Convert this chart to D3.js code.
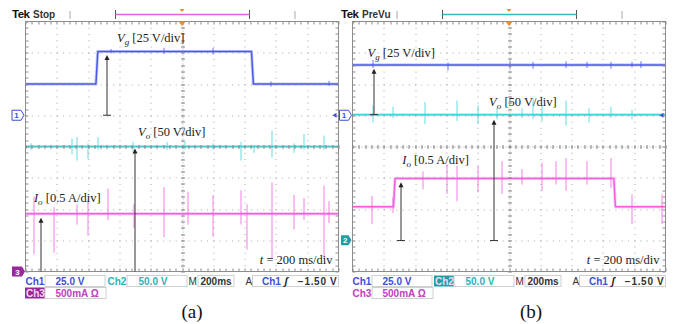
<!DOCTYPE html>
<html>
<head>
<meta charset="utf-8">
<script src="https://cdn.jsdelivr.net/npm/d3@7"></script>
<style>
  body { margin: 0; background: #fff; }
  svg { display: block; }
  .note { font-family: 'Liberation Serif', 'Times New Roman', serif; font-size: 12.5px; fill: #222; }
  .status { font-family: 'Liberation Sans', Arial, sans-serif; font-size: 10px; font-weight: bold; }
  .tag { font-family: 'Liberation Serif', 'Times New Roman', serif; font-size: 19px; fill: #111; }
</style>
</head>
<body>
<svg id="chart" width="679" height="324"></svg>
<script>
// time in ms (200 ms/div), levels in screen divisions from centre (+4 top, -4 bottom)
// steps: [ms, level]   spikes: [ms, up, down]
const vgStepA = [[0, 2.0], [450, 2.0], [462, 3.04], [1444, 3.04], [1456, 2.0], [2000, 2.0]];
const voStepA = [[0, 0.0], [2000, 0.0]];
const ioStepA = [[0, -2.15], [2000, -2.15]];
const vgSpikesA = [[540, 0.08, 0.06], [879, 0.12, 0.08], [1198, 0.12, 0.1], [1563, 0.08, 0.08], [1933, 0.1, 0.06]];
const voSpikesA = [[29, 0.1, 0.1], [297, 0.25, 0.25], [329, 0.3, 0.45], [399, 0.1, 0.4], [457, 0.3, 0.1],
    [681, 0.15, 0.15], [904, 0.15, 0.1], [1019, 0.15, 0.1], [1198, 0.1, 0.1], [1371, 0.15, 0.45],
    [1454, 0.05, 0.2], [1575, 0.5, 0.35], [1710, 0.1, 0.2], [1774, 0.4, 0.1], [1901, 0.35, 0.1]];
const ioSpikesA = [[48, 0.55, 1.3], [182, 0.2, 1.25], [329, 0.3, 0.35], [399, 0.45, 0.7], [527, 0.8, 0.2],
    [687, 0.3, 0.45], [879, 0.85, 0.75], [1032, 0.7, 0.35], [1198, 0.6, 0.75], [1371, 0.75, 0.35],
    [1415, 0.3, 1.15], [1569, 1.0, 1.45], [1710, 0.6, 0.5], [1774, 0.5, 0.2], [1901, 0.9, 1.45], [1933, 0.4, 0.3]];

const vgStepB = [[0, 2.61], [2000, 2.61]];
const voStepB = [[0, 1.02], [2000, 1.02]];
const ioStepB = [[0, -1.93], [262, -1.93], [272, -1.02], [1670, -1.02], [1680, -1.93], [2000, -1.93]];
const vgSpikesB = [[127, 0.16, 0.1], [605, 0.08, 0.18], [1006, 0.12, 0.12], [1147, 0.1, 0.12], [1363, 0.12, 0.1],
    [1497, 0.1, 0.1], [1650, 0.1, 0.12], [1784, 0.1, 0.08], [1841, 0.12, 0.1]];
const voSpikesB = [[127, 0.3, 0.25], [255, 0.25, 0.1], [459, 0.4, 0.3], [662, 0.45, 0.2], [796, 0.3, 0.3],
    [917, 0.2, 0.15], [1083, 0.2, 0.1], [1147, 0.5, 0.15], [1210, 0.3, 0.2], [1363, 0.45, 0.35],
    [1510, 0.2, 0.25], [1650, 0.25, 0.1], [1784, 0.15, 0.15]];
const ioSpikesB = [[121, 0.35, 0.55], [255, 0.3, 0.2], [446, 0.22, 0.35], [599, 0.45, 0.5], [662, 0.4, 0.73],
    [796, 0.4, 0.45], [949, 0.55, 0.5], [1077, 0.3, 0.2], [1210, 0.5, 0.4], [1300, 0.55, 0.2],
    [1363, 0.65, 0.4], [1497, 0.55, 0.2], [1650, 0.65, 0.3], [1784, 0.4, 0.55], [1975, 0.4, 0.55]];

// annotation anchors: label [ms, level], arrow x, arrow tip, arrow foot
const notesA = [
    { sym: 'V', sub: 'g', unit: ' [25 V/div]', at: [585, 3.35], ax: 519, tip: 2.93, foot: 1.0 },
    { sym: 'V', sub: 'o', unit: ' [50 V/div]', at: [719, 0.34], ax: 698, tip: -0.06, foot: -4 },
    { sym: 'I', sub: 'o', unit: ' [0.5 A/div]', at: [54, -1.77], ax: 99, tip: -2.28, foot: -4 }
];
const notesB = [
    { sym: 'V', sub: 'g', unit: ' [25 V/div]', at: [96, 2.87], ax: 134, tip: 2.49, foot: 1.02 },
    { sym: 'V', sub: 'o', unit: ' [50 V/div]', at: [873, 1.31], ax: 898, tip: 0.86, foot: -3.01 },
    { sym: 'I', sub: 'o', unit: ' [0.5 A/div]', at: [318, -0.57], ax: 306, tip: -1.14, foot: -3.01 }
];

const chLabels = ['Ch1', 'Ch2', 'Ch3'];
const chScales = ['25.0 V', '50.0 V', '500mA Ω'];
const timeBase = '200ms';
const trigText = ['Ch1', 'ʃ', '−1.50 V'];
const sweepText = '200 ms/div';

const colors = { vg: '#4b5ae6', vo: '#3fd2dc', io: '#f25fe0' };
const chColors = ['#3e4fd6', '#2bb4bc', '#c43cc2'];
const chFill = ['#3e4fd6', '#1f9fa3', '#97299a'];

const W = 313, H = 250, TOP = 21.5;
const svg = d3.select('#chart');

const panels = [
    { left: 25.5, tek: 12, state: 'Stop', bracket: '#e064d8', active: 3, tagX: 192, tag: '(a)', notes: notesA,
      traces: [[ioStepA, ioSpikesA, colors.io], [voStepA, voSpikesA, colors.vo], [vgStepA, vgSpikesA, colors.vg]] },
    { left: 352.5, tek: 341, state: 'PreVu', bracket: '#33b8c4', active: 2, tagX: 531, tag: '(b)', notes: notesB,
      traces: [[ioStepB, ioSpikesB, colors.io], [voStepB, voSpikesB, colors.vo], [vgStepB, vgSpikesB, colors.vg]] }
];

function levelAt(steps, t) {
    let v = steps[0][1];
    steps.forEach(d => { if (d[0] <= t) v = d[1]; });
    return v;
}

function drawGrid(g, x, y) {
    const grid = g.append('g').attr('stroke', '#8a8a8a').attr('stroke-width', 1);
    const xMinor = W / 50, yMinor = H / 40;
    d3.range(200, 2000, 200).forEach(t => {
        grid.append('line').attr('x1', Math.round(x(t)) + 0.5).attr('x2', Math.round(x(t)) + 0.5)
            .attr('y1', 0).attr('y2', H).attr('stroke-dasharray', '1,' + (yMinor - 1)).attr('opacity', 0.75);
    });
    d3.range(-3, 4, 1).forEach(v => {
        grid.append('line').attr('y1', Math.round(y(v)) + 0.5).attr('y2', Math.round(y(v)) + 0.5)
            .attr('x1', 0).attr('x2', W).attr('stroke-dasharray', '1,' + (xMinor - 1)).attr('opacity', 0.75);
    });
    // centre cross ticks and border ticks every minor division
    const cx = Math.round(x(1000)) + 0.5, cy = Math.round(y(0)) + 0.5;
    const xs = d3.range(0, 2000.1, 40), ys = d3.range(-4, 4.01, 0.2);
    const rx = d => Math.round(x(d)) + 0.5, ry = d => Math.round(y(d)) + 0.5;
    const ticks = g.append('g').attr('stroke', '#8a8a8a').attr('stroke-width', 1);
    ticks.selectAll('.cxt').data(ys).join('line').attr('x1', cx - 2).attr('x2', cx + 2).attr('y1', ry).attr('y2', ry);
    ticks.selectAll('.cyt').data(xs).join('line').attr('y1', cy - 2).attr('y2', cy + 2).attr('x1', rx).attr('x2', rx);
    ticks.selectAll('.bt').data(xs).join('line').attr('y1', 0).attr('y2', 3).attr('x1', rx).attr('x2', rx);
    ticks.selectAll('.bb').data(xs).join('line').attr('y1', H - 3).attr('y2', H).attr('x1', rx).attr('x2', rx);
    ticks.selectAll('.bl').data(ys).join('line').attr('x1', 0).attr('x2', 3).attr('y1', ry).attr('y2', ry);
    ticks.selectAll('.br').data(ys).join('line').attr('x1', W - 3).attr('x2', W).attr('y1', ry).attr('y2', ry);
    ticks.append('line').attr('x1', cx).attr('x2', cx).attr('y1', 0).attr('y2', H).attr('stroke-dasharray', '1,2').attr('opacity', 0.7);
    ticks.append('line').attr('y1', cy).attr('y2', cy).attr('x1', 0).attr('x2', W).attr('stroke-dasharray', '1,2').attr('opacity', 0.7);
}

function drawTopBar(p) {
    const L = p.left, top = svg.append('g');
    top.append('text').attr('x', p.tek).attr('y', 18).attr('class', 'status')
        .style('font-size', '11.5px').style('letter-spacing', '-0.5px').attr('fill', '#111').text('Tek');
    top.append('text').attr('x', p.tek + 21).attr('y', 18).attr('class', 'status')
        .style('font-size', '10px').attr('fill', '#333').text(p.state);
    [44.5, 269.5].forEach(dx => top.append('line').attr('x1', L + dx).attr('x2', L + dx)
        .attr('y1', 11).attr('y2', 19).attr('stroke', '#aaa'));
    const b0 = L + 90, b1 = L + 224;
    top.append('path').attr('d', `M${b0},10V19M${b1},10V19`).attr('stroke', '#555').attr('fill', 'none');
    top.append('line').attr('x1', b0).attr('x2', b1).attr('y1', 14.5).attr('y2', 14.5)
        .attr('stroke', p.bracket).attr('stroke-width', 1.5);
    const c = L + W / 2;
    top.append('path').attr('d', `M${c - 2.5},9L${c + 2.5},9L${c},12Z`).attr('fill', '#f08a2a');
    top.append('path').attr('d', `M${c - 3.5},${TOP}L${c + 3.5},${TOP}L${c},${TOP + 4.5}Z`).attr('fill', '#f08a2a');
}

function drawStatus(p) {
    const L = p.left, g = svg.append('g').attr('class', 'status');
    const r1 = 275.5, r2 = 287.5, bh = 11;
    const box = (x0, x1, yy, fill) => g.append('rect').attr('x', L + x0).attr('y', yy)
        .attr('width', x1 - x0).attr('height', bh).attr('fill', fill || '#fff').attr('stroke', fill ? 'none' : '#cfcfcf');
    box(19.5, 79.5, r1); box(101.5, 161.5, r1); box(172.5, 208.5, r1); box(227, 313, r1); box(19.5, 80.5, r2);
    const label = (ch, x0, yy) => {
        const on = p.active === ch;
        if (on) box(x0 - 0.5, x0 + 19, yy, chFill[ch - 1]);
        g.append('text').attr('x', L + x0 + (on ? 0.5 : 0)).attr('y', yy + 9)
            .attr('fill', on ? '#f4d8f2' : chColors[ch - 1]).text(chLabels[ch - 1]);
    };
    label(1, 0, r1); label(2, 82, r1); label(3, 0, r2);
    g.append('text').attr('x', L + 30).attr('y', r1 + 9).attr('fill', chColors[0]).text(chScales[0]);
    g.append('text').attr('x', L + 113).attr('y', r1 + 9).attr('fill', chColors[1]).text(chScales[1]);
    g.append('text').attr('x', L + 30).attr('y', r2 + 9).attr('fill', chColors[2]).text(chScales[2]);
    g.append('text').attr('x', L + 163).attr('y', r1 + 9).attr('fill', '#333').style('font-weight', 'normal').text('M');
    g.append('text').attr('x', L + 175).attr('y', r1 + 9).attr('fill', '#333').text(timeBase);
    g.append('text').attr('x', L + 220).attr('y', r1 + 9).attr('fill', '#333').style('font-weight', 'normal').text('A');
    g.append('text').attr('x', L + 236.5).attr('y', r1 + 9).attr('fill', chColors[0]).text(trigText[0]);
    g.append('text').attr('x', L + 259).attr('y', r1 + 9).attr('fill', '#222').style('font-style', 'italic').text(trigText[1]);
    g.append('text').attr('x', L + 312).attr('y', r1 + 9).attr('fill', '#333').attr('text-anchor', 'end')
        .style('letter-spacing', '0.7px').text(trigText[2]);
}

function drawMarkers(p, y) {
    const L = p.left, m = svg.append('g').attr('class', 'status').style('font-size', '8px');
    const y1 = TOP + y(1);
    const x0 = p.active === 3 ? 12 : 339.5, x1 = x0 + 9;
    m.append('path').attr('d', `M${x0},${y1 - 5}H${x1}L${x1 + 3},${y1}L${x1},${y1 + 5}H${x0}Z`)
        .attr('fill', '#fff').attr('stroke', chColors[0]);
    m.append('text').attr('x', x0 + 4.5).attr('y', y1 + 3).attr('text-anchor', 'middle').attr('fill', chColors[0]).text('1');
    // active channel ground marker
    const ya = TOP + y(p.active === 3 ? -4 : -3);
    const a0 = p.active === 3 ? 12 : 341, a1 = a0 + (p.active === 3 ? 10 : 7.5);
    m.append('path').attr('d', `M${a0},${ya - 5}H${a1}L${a1 + 3},${ya}L${a1},${ya + 5}H${a0}Z`).attr('fill', chFill[p.active - 1]);
    m.append('text').attr('x', a0 + (a1 - a0) / 2 + 0.5).attr('y', ya + 3).attr('text-anchor', 'middle')
        .attr('fill', '#fff').text(String(p.active));
    // trigger level marker on the right edge
    const rx = L + W - 2;
    svg.append('path').attr('d', `M${rx},${y1 - 2.5}L${rx - 4},${y1}L${rx},${y1 + 2.5}Z`).attr('fill', chColors[0]);
}

function drawNotes(g, x, y, notes) {
    notes.forEach(n => {
        const ax = Math.round(x(n.ax)) + 0.5;
        g.append('line').attr('x1', ax).attr('x2', ax).attr('y1', y(n.tip) + 4).attr('y2', y(n.foot))
            .attr('stroke', '#333').attr('stroke-width', 1);
        g.append('path').attr('d', `M${ax - 2.5},${y(n.tip) + 5}L${ax + 2.5},${y(n.tip) + 5}L${ax},${y(n.tip)}Z`).attr('fill', '#222');
        if (n.foot > -4) {
            g.append('line').attr('x1', ax - 4).attr('x2', ax + 4).attr('y1', y(n.foot)).attr('y2', y(n.foot))
                .attr('stroke', '#333');
        }
        const t = g.append('text').attr('class', 'note').attr('x', x(n.at[0])).attr('y', y(n.at[1]));
        t.append('tspan').style('font-style', 'italic').text(n.sym);
        t.append('tspan').style('font-style', 'italic').style('font-size', '9px').attr('dy', 3).text(n.sub);
        t.append('tspan').attr('dy', -3).text(n.unit);
    });
}

panels.forEach(p => {
    const x = d3.scaleLinear().domain([0, 2000]).range([0, W]);
    const y = d3.scaleLinear().domain([-4, 4]).range([H, 0]);
    const g = svg.append('g').attr('transform', `translate(${p.left},${TOP})`);

    g.append('rect').attr('width', W).attr('height', H).attr('fill', '#fff');

    const line = d3.line().x(d => x(d[0])).y(d => y(d[1]));
    p.traces.forEach(([steps, spikes, color]) => {
        // switching spikes: thin vertical strokes about the local level
        g.append('g').selectAll('line').data(spikes).join('line')
            .attr('x1', d => Math.round(x(d[0])) + 0.5).attr('x2', d => Math.round(x(d[0])) + 0.5)
            .attr('y1', d => y(levelAt(steps, d[0]) + d[1]))
            .attr('y2', d => y(levelAt(steps, d[0]) - d[2]))
            .attr('stroke', color).attr('stroke-width', 1).attr('opacity', 0.8);
        g.append('path').attr('d', line(steps)).attr('fill', 'none').attr('stroke', color)
            .attr('stroke-width', 3.2).attr('opacity', 0.3);
        g.append('path').attr('d', line(steps)).attr('fill', 'none').attr('stroke', color)
            .attr('stroke-width', 1.5).attr('stroke-linejoin', 'round');
    });

    drawGrid(g, x, y);
    g.append('rect').attr('width', W).attr('height', H).attr('fill', 'none').attr('stroke', '#8c8c8c');

    drawNotes(g, x, y, p.notes);
    const tt = g.append('text').attr('class', 'note').attr('x', W - 6).attr('y', y(-3.75)).attr('text-anchor', 'end');
    tt.append('tspan').style('font-style', 'italic').text('t');
    tt.append('tspan').text(' =  ' + sweepText);

    drawTopBar(p);
    drawStatus(p);
    drawMarkers(p, y);

    svg.append('text').attr('class', 'tag').attr('x', p.tagX).attr('y', 318).attr('text-anchor', 'middle').text(p.tag);
});
</script>
</body>
</html>
